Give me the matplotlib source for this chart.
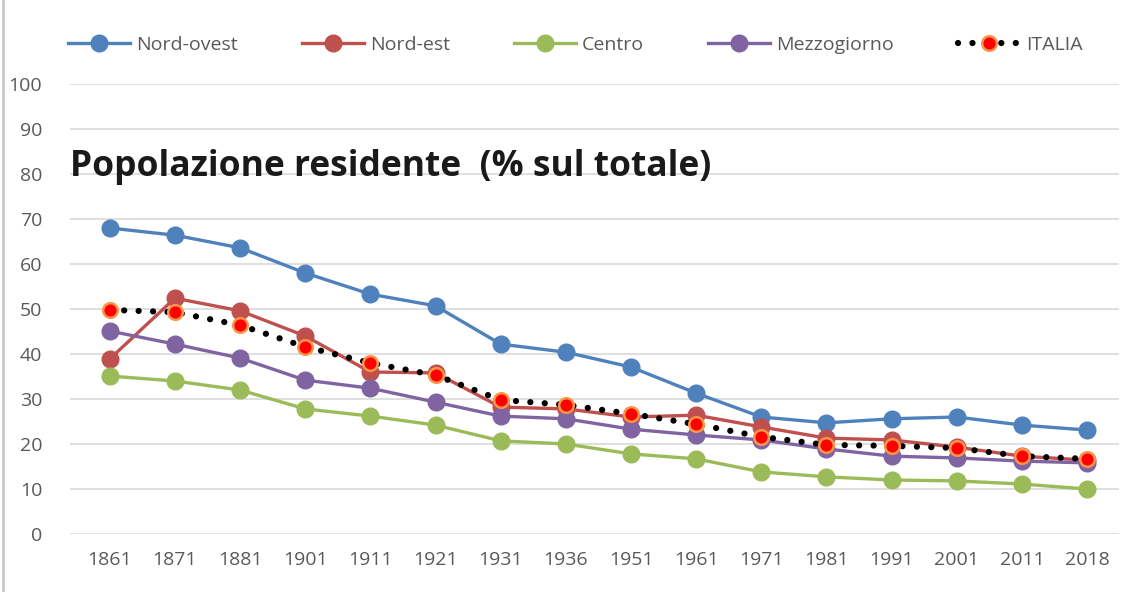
import matplotlib
matplotlib.use("Agg")
import matplotlib.pyplot as plt
from matplotlib.lines import Line2D

years = ["1861", "1871", "1881", "1901", "1911", "1921", "1931", "1936",
         "1951", "1961", "1971", "1981", "1991", "2001", "2011", "2018"]
nord_ovest = [68.0, 66.4, 63.6, 58.0, 53.3, 50.7, 42.2, 40.4, 37.1, 31.3, 26.0, 24.7, 25.6, 26.0, 24.2, 23.1]
nord_est = [38.9, 52.4, 49.6, 44.0, 36.0, 35.8, 28.2, 27.8, 26.0, 26.4, 23.8, 21.3, 20.9, 19.3, 17.3, 16.4]
centro = [35.1, 34.0, 32.0, 27.8, 26.2, 24.2, 20.7, 20.0, 17.8, 16.7, 13.8, 12.7, 12.0, 11.8, 11.1, 10.0]
mezzogiorno = [45.1, 42.2, 39.1, 34.2, 32.4, 29.3, 26.2, 25.6, 23.3, 22.0, 20.9, 18.9, 17.3, 16.9, 16.2, 15.8]
italia = [49.8, 49.3, 46.4, 41.6, 38.0, 35.3, 29.8, 28.7, 26.7, 24.4, 21.6, 19.8, 19.6, 19.1, 17.3, 16.7]

plt.rcParams['font.family'] = ['Open Sans', 'DejaVu Sans']

fig = plt.figure(figsize=(11.26, 5.92), dpi=100)
ax = fig.add_axes([70/1126, 1-534/592, (1119-70)/1126, (534-84)/592])

x = list(range(len(years)))
series = [("Nord-ovest", nord_ovest, "#4f81bd"),
          ("Nord-est", nord_est, "#c0504d"),
          ("Centro", centro, "#9bbb59"),
          ("Mezzogiorno", mezzogiorno, "#8064a2")]
handles = []
for name, vals, col in series:
    h, = ax.plot(x, vals, color=col, lw=2.4, marker="o", markersize=12,
                 markerfacecolor=col, markeredgecolor=col, label=name, zorder=3)
    handles.append(h)

ax.plot(x, italia, color="black", lw=4.5, linestyle=(0, (0.01, 2.3)),
        dash_capstyle="round", zorder=4)
ax.plot(x, italia, linestyle="none", marker="o", markersize=10.5,
        markerfacecolor="#ff0000", markeredgecolor="#f79646", markeredgewidth=1.8, zorder=5)
h_it = Line2D([], [], color="black", lw=4.5, linestyle=(0, (0.01, 2.3)),
              dash_capstyle="round", marker="o", markersize=10.5,
              markerfacecolor="#ff0000", markeredgecolor="#f79646", markeredgewidth=1.8)
handles.append(h_it)

ax.set_ylim(0, 100)
ax.set_xlim(-0.61, 15.49)
ax.set_yticks(range(0, 101, 10))
ax.set_xticks(x)
ax.set_xticklabels(years)
ax.grid(axis="y", color="#d9d9d9", lw=1.2)
ax.set_axisbelow(True)
for s in ax.spines.values():
    s.set_visible(False)
ax.tick_params(length=0, labelsize=14, colors="#595959", pad=12)
ax.tick_params(axis="y", pad=20)

ax.text(0.0, 0.816, "Popolazione residente  (% sul totale)", transform=ax.transAxes,
        fontsize=25.5, fontweight="bold", color="#1a1a1a", va="center", ha="left")

fig.legend(handles, ["Nord-ovest", "Nord-est", "Centro", "Mezzogiorno", "ITALIA"],
           loc="center", bbox_to_anchor=(0.511, 1-45/592), ncol=5, frameon=False,
           fontsize=14, handlelength=3.2, columnspacing=3.3, handletextpad=0.3,
           labelcolor="#595959")

fig.add_artist(Line2D([3/1126, 3/1126], [0, 1], transform=fig.transFigure,
                      color="#c8c8c8", lw=2))

fig.savefig("out.png", dpi=100)
